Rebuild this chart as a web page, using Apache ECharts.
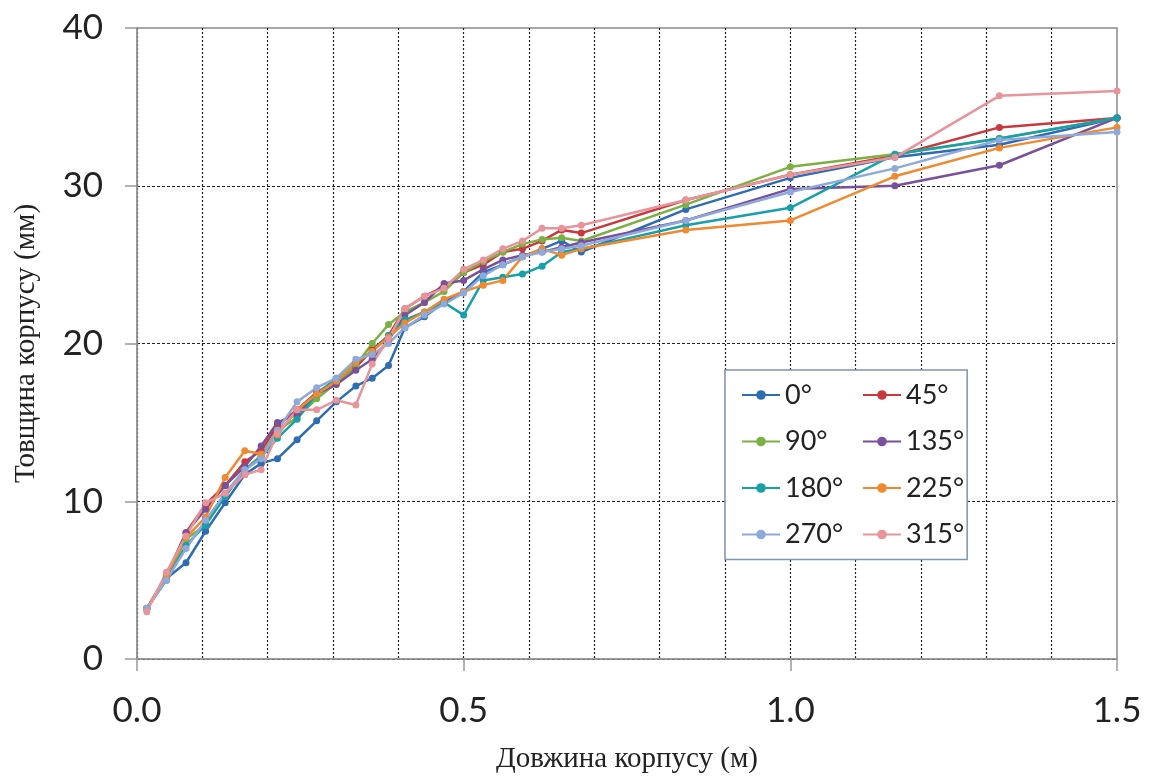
<!DOCTYPE html>
<html>
<head>
<meta charset="utf-8">
<script src="https://cdn.jsdelivr.net/npm/echarts@6/dist/echarts.min.js"></script>
<style>
  html, body { margin: 0; padding: 0; background: #fff; }
  #chart { width: 1150px; height: 779px; }
</style>
</head>
<body>
<div id="chart"></div>
<script>
// body length, m (shared by all angles)
const lengths = [0.015, 0.045, 0.075, 0.105, 0.135, 0.165, 0.19, 0.215, 0.245, 0.275,
  0.305, 0.335, 0.36, 0.385, 0.41, 0.44, 0.47, 0.5, 0.53, 0.56,
  0.59, 0.62, 0.65, 0.68, 0.84, 1.0, 1.16, 1.32, 1.5]

// wall thickness, mm
const deg0 = [3.2, 5.1, 6.1, 8.1, 9.9, 11.7, 12.4, 12.7, 13.9, 15.1,
  16.3, 17.3, 17.8, 18.6, 21.0, 21.7, 22.6, 23.3, 24.5, 25.0,
  25.5, 26.0, 26.5, 25.8, 28.5, 30.5, 31.8, 32.6, 34.3]
const deg45 = [3.2, 5.3, 8.0, 9.8, 11.0, 12.5, 13.2, 14.8, 15.8, 16.9,
  17.6, 18.5, 19.6, 20.5, 22.2, 23.0, 23.6, 24.5, 25.0, 25.8,
  26.0, 26.5, 27.2, 27.0, 29.1, 30.7, 31.9, 33.7, 34.3]
const deg90 = [3.2, 5.1, 7.6, 8.5, 10.5, 12.0, 12.9, 14.5, 15.3, 16.5,
  17.5, 18.6, 20.0, 21.2, 22.0, 22.6, 23.3, 24.5, 25.2, 25.8,
  26.3, 26.6, 26.7, 26.5, 28.8, 31.2, 32.0, 33.0, 34.3]
const deg135 = [3.2, 5.2, 8.0, 9.5, 11.0, 12.2, 13.5, 15.0, 15.5, 16.8,
  17.4, 18.3, 19.0, 20.2, 21.8, 22.6, 23.8, 24.0, 24.7, 25.3,
  25.6, 25.8, 26.1, 26.4, 27.8, 29.8, 30.0, 31.3, 34.3]
const deg180 = [3.2, 5.0, 7.2, 8.5, 10.3, 12.0, 12.8, 14.0, 15.2, 16.8,
  17.8, 18.8, 19.5, 20.5, 21.5, 22.0, 22.6, 21.8, 24.0, 24.2,
  24.4, 24.9, 25.8, 26.0, 27.5, 28.6, 32.0, 33.0, 34.3]
const deg225 = [3.2, 5.3, 7.7, 9.0, 11.5, 13.2, 13.0, 14.2, 15.8, 16.8,
  17.6, 18.8, 19.5, 20.4, 21.3, 22.0, 22.8, 23.3, 23.7, 24.0,
  25.5, 26.0, 25.6, 26.0, 27.2, 27.8, 30.6, 32.4, 33.7]
const deg270 = [3.2, 5.0, 7.0, 8.8, 10.5, 12.0, 12.7, 14.5, 16.3, 17.2,
  17.8, 19.0, 19.3, 20.0, 21.0, 21.8, 22.5, 23.2, 24.3, 25.0,
  25.5, 25.8, 26.0, 26.2, 27.8, 29.6, 31.1, 32.9, 33.4]
const deg315 = [3.0, 5.5, 7.8, 9.9, 10.5, 11.7, 12.0, 14.3, 15.8, 15.8,
  16.4, 16.1, 18.7, 20.3, 22.2, 23.0, 23.5, 24.7, 25.3, 26.0,
  26.5, 27.3, 27.3, 27.5, 29.1, 30.7, 31.8, 35.7, 36.0]

const names = ['0°', '45°', '90°', '135°', '180°', '225°', '270°', '315°']
const values = [deg0, deg45, deg90, deg135, deg180, deg225, deg270, deg315]
const colors = ['#2f6db3', '#c8383c', '#7cb043', '#7a509a', '#17a0aa', '#f0892f', '#8eaadb', '#e8949b']

const chart = echarts.init(document.getElementById('chart'))

const tickFont = { fontFamily: 'Lato', fontSize: 35, color: '#222' }
const nameFont = { fontFamily: 'Liberation Serif', fontSize: 29, color: '#222' }
const legendText = { fontFamily: 'Lato', fontSize: 27, color: '#222', lineHeight: 30 }

chart.setOption({
  animation: false,
  color: colors,
  grid: { left: 137, right: 33, top: 28, bottom: 119, show: true, borderColor: '#8a8a8a', borderWidth: 1.5 },
  legend: [
    {
      orient: 'vertical',
      left: 725,
      top: 370,
      padding: [10, 124, 10, 16],
      itemGap: 16.5,
      itemWidth: 38,
      itemHeight: 12,
      backgroundColor: '#fff',
      borderColor: '#7f93b3',
      borderWidth: 1.5,
      textStyle: legendText,
      data: ['0°', '90°', '180°', '270°'],
    },
    {
      orient: 'vertical',
      left: 862,
      top: 370,
      z: 6,
      padding: [10, 10, 10, 0],
      itemGap: 16.5,
      itemWidth: 38,
      itemHeight: 12,
      textStyle: legendText,
      data: ['45°', '135°', '225°', '315°'],
    },
  ],
  xAxis: [
    {
      type: 'value',
      min: 0,
      max: 1.5,
      interval: 0.1,
      axisLine: { lineStyle: { color: '#999', width: 1.5 } },
      axisTick: { show: false },
      axisLabel: { show: false },
      splitLine: { show: true, showMaxLine: false, lineStyle: { color: '#222', type: [2, 2], width: 1.2 } },
    },
    {
      type: 'value',
      position: 'bottom',
      min: 0,
      max: 1.5,
      interval: 0.5,
      name: 'Довжина корпусу (м)',
      nameLocation: 'middle',
      nameGap: 86,
      nameTextStyle: nameFont,
      axisLine: { show: false },
      axisTick: { show: true, length: 12, lineStyle: { color: '#999', width: 1.5 } },
      axisLabel: Object.assign({ margin: 34, formatter: (v) => v.toFixed(1) }, tickFont),
      splitLine: { show: false },
    },
  ],
  yAxis: {
    type: 'value',
    min: 0,
    max: 40,
    interval: 10,
    name: 'Товщина корпусу (мм)',
    nameLocation: 'middle',
    nameGap: 96,
    nameTextStyle: nameFont,
    axisLine: { show: true, lineStyle: { color: '#999', width: 1.5 } },
    axisTick: { show: true, length: 12, lineStyle: { color: '#999', width: 1.5 } },
    axisLabel: Object.assign({ margin: 34 }, tickFont),
    splitLine: { show: true, showMaxLine: false, lineStyle: { color: '#222', type: [3, 2], width: 1.2 } },
  },
  series: names.map((name, i) => ({
    name: name,
    type: 'line',
    xAxisIndex: 0,
    symbol: 'circle',
    symbolSize: 7,
    lineStyle: { width: 2.5 },
    data: lengths.map((x, j) => [x, values[i][j]]),
  })),
})
</script>
</body>
</html>
